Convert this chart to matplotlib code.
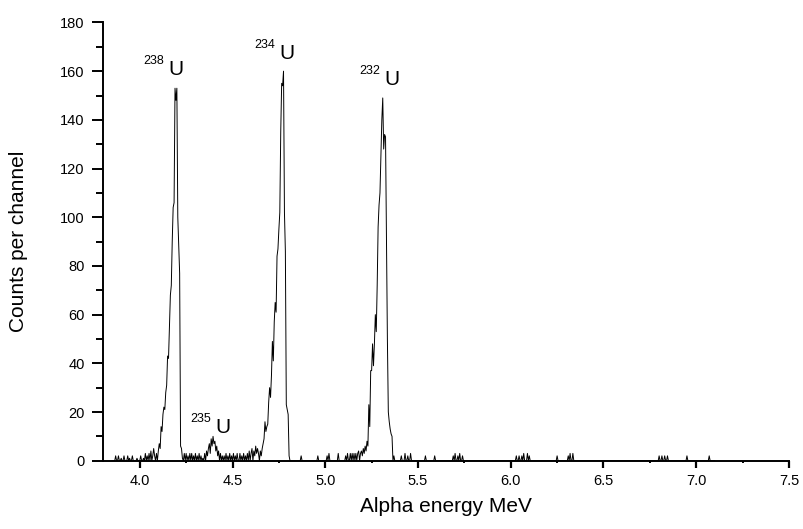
import matplotlib
matplotlib.use("Agg")
import matplotlib.pyplot as plt
import numpy as np
from matplotlib.ticker import MultipleLocator, FormatStrFormatter

plt.rcParams['font.family'] = ['Liberation Sans', 'DejaVu Sans']

############ data ############
E_START = 3.850
E_STOP = 7.100
STEP = 0.005

# peaks: first channel energy + counts of consecutive channels
u238_start = 4.080
u238_counts = [2, 0, 3, 0, 4, 7, 5, 14, 12, 19, 22, 21, 28, 31, 43, 42, 55, 68, 72,
               90, 104, 106, 153, 148, 153, 100, 88, 77, 6, 5, 1, 0]

u235_start = 4.340
u235_counts = [1, 0, 3, 0, 4, 2, 5, 7, 3, 9, 6, 10, 7, 8, 4, 6, 2, 4, 0, 3, 0, 2]

u234_start = 4.640
u234_counts = [3, 0, 4, 2, 5, 7, 9, 16, 12, 14, 15, 24, 30, 26, 35, 49, 41, 57, 65, 61,
               84, 87, 95, 102, 135, 155, 154, 160, 102, 86, 23, 21, 19, 2, 0]

u232_start = 5.225
u232_counts = [8, 6, 23, 14, 37, 37, 48, 39, 48, 60, 53, 72, 96, 105, 110, 125, 140, 149,
               128, 134, 133, 90, 50, 20, 16, 13, 11, 10, 0]

# isolated background counts (energy MeV: counts)
background = {
    3.870: 2, 3.885: 2, 3.900: 1, 3.915: 2, 3.935: 2, 3.945: 1, 3.960: 2,
    3.985: 1, 4.005: 2, 4.020: 1, 4.030: 3, 4.040: 2, 4.050: 3, 4.060: 4, 4.070: 2, 4.075: 5,
    4.240: 3, 4.250: 3, 4.260: 2, 4.270: 3, 4.280: 3, 4.290: 2, 4.300: 3, 4.310: 2,
    4.320: 3, 4.330: 2,
    4.455: 2, 4.465: 3, 4.475: 2, 4.485: 3, 4.495: 2, 4.505: 3, 4.515: 2, 4.525: 3,
    4.540: 3, 4.550: 2, 4.560: 3, 4.570: 2, 4.580: 3, 4.590: 4, 4.600: 3, 4.605: 5,
    4.615: 4, 4.620: 2, 4.625: 6, 4.630: 3, 4.635: 5,
    4.870: 2, 4.960: 2, 5.010: 2, 5.020: 3, 5.070: 3,
    5.110: 2, 5.120: 3, 5.135: 3, 5.145: 3, 5.155: 3, 5.165: 3, 5.175: 3, 5.180: 4,
    5.190: 3, 5.195: 4, 5.200: 2, 5.205: 5, 5.210: 3, 5.215: 6, 5.220: 4,
    5.370: 2, 5.410: 2, 5.430: 3, 5.445: 2, 5.460: 3, 5.540: 2, 5.590: 2,
    5.690: 2, 5.700: 3, 5.715: 2, 5.725: 3, 5.740: 2,
    6.030: 2, 6.045: 2, 6.060: 2, 6.070: 3, 6.090: 3, 6.100: 2, 6.250: 2,
    6.310: 2, 6.320: 3, 6.335: 3, 6.800: 2, 6.815: 2, 6.830: 2, 6.845: 2,
    6.950: 2, 7.070: 2,
}

isotopes = ['238', '235', '234', '232']
label_E = [4.153, 4.405, 4.750, 5.317]
label_counts = [158.3, 11.3, 165.0, 154.2]

############ build the channel spectrum ############
energy = np.round(np.arange(E_START, E_STOP + STEP / 2, STEP), 3)
counts = np.zeros(len(energy))

def idx(e):
    return int(round((e - E_START) / STEP))

for e, c in background.items():
    counts[idx(e)] = c
for start, vals in [(u238_start, u238_counts), (u235_start, u235_counts),
                    (u234_start, u234_counts), (u232_start, u232_counts)]:
    i0 = idx(start)
    counts[i0:i0 + len(vals)] = vals

############ plot ############
fig = plt.figure(figsize=(8.04, 5.29), dpi=100)
ax = fig.add_axes([0.1277, 0.1291, 0.8536, 0.8284])

ax.plot(energy, counts, color='black', linewidth=0.7)

ax.set_xlim(3.8, 7.5)
ax.set_ylim(0, 180)

ax.xaxis.set_major_locator(MultipleLocator(0.5))
ax.xaxis.set_minor_locator(MultipleLocator(0.25))
ax.xaxis.set_major_formatter(FormatStrFormatter('%.1f'))
ax.yaxis.set_major_locator(MultipleLocator(20))
ax.yaxis.set_minor_locator(MultipleLocator(10))

for s in ['top', 'right']:
    ax.spines[s].set_visible(False)
for s in ['left', 'bottom']:
    ax.spines[s].set_linewidth(1.4)

ax.tick_params(axis='y', which='major', direction='out', length=8, width=1.4,
               labelsize=10.5, pad=5)
ax.tick_params(axis='y', which='minor', direction='out', length=4.8, width=1.4)
ax.tick_params(axis='x', which='major', direction='out', length=4.8, width=1.6,
               labelsize=10.5, pad=5)
ax.tick_params(axis='x', which='minor', direction='out', length=1.6, width=1.4)

ax.set_xlabel('Alpha energy MeV', fontsize=15)
ax.set_ylabel('Counts per channel', fontsize=15)
ax.xaxis.set_label_coords(0.5, -0.083)
ax.yaxis.set_label_coords(-0.109, 0.5)

for iso, x, y in zip(isotopes, label_E, label_counts):
    ax.text(x, y, 'U', fontsize=15, ha='left', va='baseline')
    ax.annotate(iso, xy=(x, y), xytext=(-3, 8), textcoords='offset points',
                ha='right', va='baseline', fontsize=9)

fig.savefig('out.png', dpi=100)
